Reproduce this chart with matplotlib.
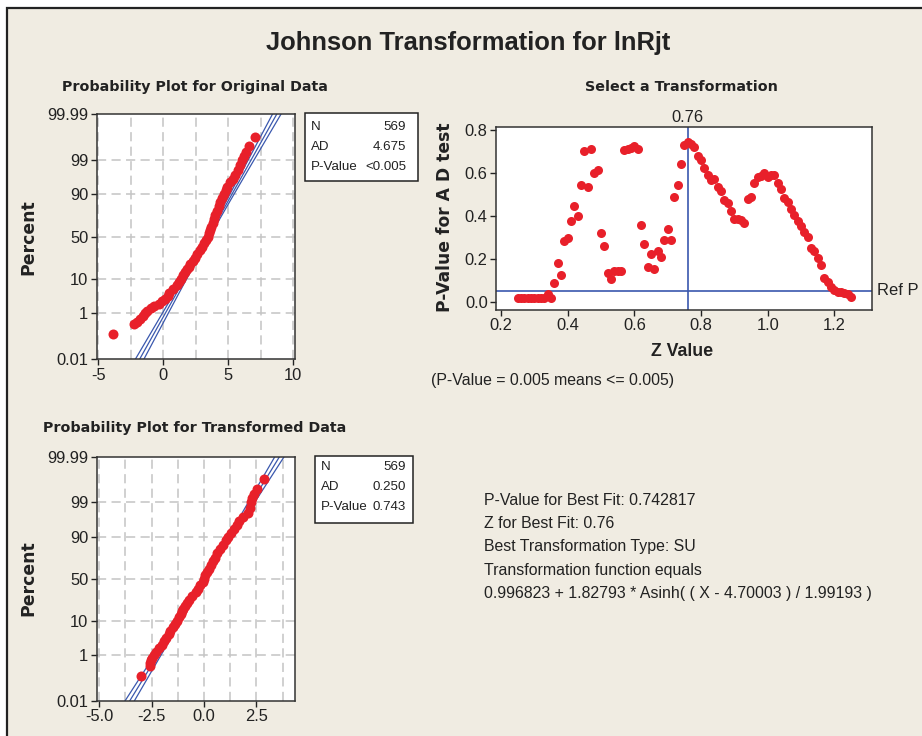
import numpy as np
import matplotlib
matplotlib.use("Agg")
import matplotlib.pyplot as plt
from matplotlib import font_manager
from matplotlib.patches import Rectangle
from statistics import NormalDist

# ------------------------------------------------------------------ data
n_obs = 569

# probability plot, original data (percent, value)
orig_pct = [0.16, 0.4, 0.5, 0.65, 0.8, 1.0, 1.2, 1.5, 1.8, 2.1, 2.5, 3, 3.7, 4.5,
            5.5, 7, 8.5, 10, 12, 14, 16, 18, 20, 23, 26, 30, 34, 38, 42, 46, 50,
            54, 58, 62, 66, 70, 74, 78, 82, 85, 88, 90, 92, 93.5, 95, 96, 97,
            97.8, 98.5, 99, 99.3, 99.5, 99.7, 99.87]
orig_x = [-3.89, -2.29, -2.0, -1.78, -1.6, -1.42, -1.27, -0.98, -0.71, -0.36,
          -0.09, 0.14, 0.32, 0.47, 0.76, 1.02, 1.19, 1.34, 1.52, 1.68, 1.82,
          1.96, 2.08, 2.25, 2.41, 2.61, 2.80, 2.97, 3.13, 3.28, 3.40, 3.50,
          3.61, 3.70, 3.80, 3.90, 4.01, 4.13, 4.26, 4.37, 4.52, 4.63, 4.80,
          4.93, 5.14, 5.34, 5.54, 5.74, 5.90, 6.07, 6.24, 6.39, 6.6, 7.06]
orig_fit_mean = 3.45
orig_fit_sd = 1.42

# probability plot, transformed data (percent, value)
trans_pct = [0.15, 0.38, 0.5, 0.65, 0.8, 1.0, 1.3, 1.7, 2.2, 2.8, 3.5, 4.5, 5.5,
             7, 8.5, 10, 12, 14, 16, 18, 20, 23, 26, 30, 34, 38, 42, 46, 50, 54,
             58, 62, 66, 70, 74, 78, 82, 85, 88, 90, 92, 93.5, 95, 96, 97, 97.8,
             98.5, 99, 99.3, 99.5, 99.7, 99.88]
trans_x = [-3.02, -2.58, -2.56, -2.52, -2.48, -2.40, -2.31, -2.17, -2.01, -1.90,
           -1.80, -1.69, -1.60, -1.48, -1.38, -1.29, -1.20, -1.08, -1.04, -0.98,
           -0.91, -0.81, -0.72, -0.55, -0.37, -0.27, -0.17, -0.05, 0.0, 0.07,
           0.15, 0.23, 0.32, 0.41, 0.53, 0.64, 0.78, 0.89, 1.03, 1.13, 1.27,
           1.43, 1.55, 1.67, 1.86, 2.12, 2.19, 2.24, 2.30, 2.38, 2.53, 2.88]
trans_fit_mean = 0.03
trans_fit_sd = 0.96

orig_stats = [("N", "569"), ("AD", "4.675"), ("P-Value", "<0.005")]
trans_stats = [("N", "569"), ("AD", "0.250"), ("P-Value", "0.743")]

# transformation selection scan
z_values = [0.25, 0.26, 0.27, 0.28, 0.29, 0.30, 0.31, 0.32, 0.33, 0.34, 0.35,
            0.36, 0.37, 0.38, 0.39, 0.40, 0.41, 0.42, 0.43, 0.44, 0.45, 0.46,
            0.47, 0.48, 0.49, 0.50, 0.51, 0.52, 0.53, 0.54, 0.55, 0.56, 0.57,
            0.58, 0.59, 0.60, 0.61, 0.62, 0.63, 0.64, 0.65, 0.66, 0.67, 0.68,
            0.69, 0.70, 0.71, 0.72, 0.73, 0.74, 0.75, 0.76, 0.77, 0.78, 0.79,
            0.80, 0.81, 0.82, 0.83, 0.84, 0.85, 0.86, 0.87, 0.88, 0.89, 0.90,
            0.91, 0.92, 0.93, 0.94, 0.95, 0.96, 0.97, 0.98, 0.99, 1.00, 1.01,
            1.02, 1.03, 1.04, 1.05, 1.06, 1.07, 1.08, 1.09, 1.10, 1.11, 1.12,
            1.13, 1.14, 1.15, 1.16, 1.17, 1.18, 1.19, 1.20, 1.21, 1.22, 1.23,
            1.24, 1.25]
p_values = [0.016, 0.016, 0.016, 0.016, 0.016, 0.016, 0.016, 0.016, 0.016, 0.038,
            0.016, 0.089, 0.179, 0.124, 0.284, 0.295, 0.376, 0.446, 0.401, 0.544,
            0.704, 0.536, 0.711, 0.598, 0.614, 0.322, 0.260, 0.135, 0.104, 0.143,
            0.143, 0.143, 0.707, 0.713, 0.718, 0.725, 0.713, 0.356, 0.267, 0.163,
            0.222, 0.151, 0.236, 0.207, 0.288, 0.339, 0.288, 0.489, 0.544, 0.642,
            0.730, 0.743, 0.735, 0.722, 0.679, 0.660, 0.625, 0.590, 0.567, 0.570,
            0.536, 0.516, 0.474, 0.461, 0.424, 0.384, 0.384, 0.381, 0.365, 0.479,
            0.489, 0.555, 0.580, 0.586, 0.601, 0.582, 0.590, 0.590, 0.555, 0.525,
            0.482, 0.466, 0.430, 0.404, 0.377, 0.353, 0.326, 0.300, 0.249, 0.235,
            0.202, 0.171, 0.109, 0.090, 0.070, 0.055, 0.047, 0.043, 0.039, 0.036,
            0.023]
best_z = 0.76
ref_p = 0.05

pct_ticks = [0.01, 1, 10, 50, 90, 99, 99.99]
pct_labels = ["0.01", "1", "10", "50", "90", "99", "99.99"]

summary_lines = ["P-Value for Best Fit: 0.742817",
                 "Z for Best Fit: 0.76",
                 "Best Transformation Type: SU",
                 "Transformation function equals",
                 "0.996823 + 1.82793 * Asinh( ( X - 4.70003 ) / 1.99193 )"]

# ------------------------------------------------------------------ style
W, H = 922, 736
_names = {f.name for f in font_manager.fontManager.ttflist}
if "Liberation Sans Narrow" in _names:
    NARROW = ["Liberation Sans Narrow", "DejaVu Sans"]
    SF = 1.0
elif "DejaVu Sans Condensed" in _names:
    NARROW = ["DejaVu Sans Condensed", "DejaVu Sans"]
    SF = 0.87
else:
    NARROW = ["Liberation Sans", "DejaVu Sans"]
    SF = 0.88
WIDE = ["DejaVu Sans"]
RED = "#E8202A"
BLUE = "#3A58AE"
BEIGE = "#F0ECE2"
GRID = "#C4C4C4"
INK = "#222222"

ND = NormalDist()
_ppf = np.vectorize(ND.inv_cdf, otypes=[float])
_cdf = np.vectorize(ND.cdf, otypes=[float])


def fwd(p):
    p = np.asarray(p, dtype=float)
    return _ppf(np.clip(p / 100.0, 1e-9, 1 - 1e-9))


def inv(z):
    return _cdf(np.asarray(z, dtype=float)) * 100.0


def fx(px):
    return px / W


def fy(py):
    return 1 - py / H


def rect(l, t, r, b):
    return [fx(l), fy(b), (r - l) / W, (b - t) / H]


fig = plt.figure(figsize=(W / 100, H / 100), dpi=100, facecolor="white")
fig.patches.append(Rectangle((fx(7), fy(760)), 1.2, (760 - 8) / H,
                             transform=fig.transFigure, facecolor=BEIGE,
                             edgecolor=INK, linewidth=1.6, zorder=-5))

TICK_FS = 13.5 * SF


def style_axes(ax):
    for s in ax.spines.values():
        s.set_color("#333333")
        s.set_linewidth(1.1)
    ax.tick_params(direction="out", length=4, width=1, pad=2,
                   labelsize=TICK_FS, colors=INK)
    for lab in ax.get_xticklabels() + ax.get_yticklabels():
        lab.set_family(NARROW)


def prob_plot(ax, xs, pcts, mu, sd, xlim, xticks, xticklabels, vgrid):
    ax.set_facecolor("white")
    ax.set_yscale("function", functions=(fwd, inv))
    ax.set_ylim(0.01, 99.99)
    ax.set_xlim(*xlim)
    for g in vgrid:
        ax.axvline(g, color=GRID, lw=1.1, dashes=(6, 3.5), zorder=1)
    for g in pct_ticks[1:-1]:
        ax.axhline(g, color=GRID, lw=1.1, dashes=(6, 3.5), zorder=1)
    zz = np.linspace(-3.75, 3.75, 200)
    centre = mu + sd * zz
    half = 1.96 * sd * np.sqrt((1 + zz ** 2 / 2) / n_obs)
    pp = inv(zz)
    for line in (centre - half, centre, centre + half):
        ax.plot(line, pp, color=BLUE, lw=0.9, zorder=2)
    ax.plot(xs, pcts, "o", color=RED, ms=7.2, mew=0, zorder=3)
    ax.set_yticks(pct_ticks)
    ax.set_yticklabels(pct_labels)
    ax.yaxis.set_minor_locator(matplotlib.ticker.NullLocator())
    ax.set_xticks(xticks)
    ax.set_xticklabels(xticklabels)
    style_axes(ax)


def stats_box(l, t, r, b, rows, xl, xr, ys):
    fig.patches.append(Rectangle((fx(l), fy(b)), (r - l) / W, (b - t) / H,
                                 transform=fig.transFigure, facecolor="white",
                                 edgecolor=INK, linewidth=1.1, zorder=1))
    for (k, v), y in zip(rows, ys):
        fig.text(fx(xl), fy(y), k, ha="left", va="center", fontsize=11.0 * SF,
                 family=NARROW, color=INK)
        fig.text(fx(xr), fy(y), v, ha="right", va="center", fontsize=11.0 * SF,
                 family=NARROW, color=INK)


# ---- top-left: original data
ax1 = fig.add_axes(rect(96.7, 114, 295, 359.3))
prob_plot(ax1, orig_x, orig_pct, orig_fit_mean, orig_fit_sd, (-5.13, 10.13),
          [-5, 0, 5, 10], ["-5", "0", "5", "10"],
          [-5, -2.5, 0, 2.5, 5, 7.5, 10])
stats_box(305, 113, 418, 181, orig_stats, 311, 406, [127, 147, 167])

# ---- bottom-left: transformed data
ax3 = fig.add_axes(rect(96.7, 456.7, 295, 700.7))
prob_plot(ax3, trans_x, trans_pct, trans_fit_mean, trans_fit_sd, (-5.12, 4.34),
          [-5, -2.5, 0, 2.5], ["-5.0", "-2.5", "0.0", "2.5"],
          [-5, -3.75, -2.5, -1.25, 0, 1.25, 2.5, 3.75])
stats_box(315, 456, 413, 523, trans_stats, 321, 406, [467, 487, 507])

# ---- top-right: select a transformation
ax2 = fig.add_axes(rect(496, 126.7, 872, 310))
ax2.set_facecolor("white")
ax2.set_xlim(0.185, 1.313)
ax2.set_ylim(-0.0387, 0.8155)
ax2.axvline(best_z, color=BLUE, lw=1.2, zorder=1)
ax2.axhline(ref_p, color=BLUE, lw=1.2, zorder=1)
ax2.plot(z_values, p_values, "o", color=RED, ms=6.5, mew=0, zorder=3)
ax2.set_xticks([0.2, 0.4, 0.6, 0.8, 1.0, 1.2])
ax2.set_xticklabels(["0.2", "0.4", "0.6", "0.8", "1.0", "1.2"])
ax2.set_yticks([0.0, 0.2, 0.4, 0.6, 0.8])
ax2.set_yticklabels(["0.0", "0.2", "0.4", "0.6", "0.8"])
style_axes(ax2)
ax2.text(best_z, 1.01, "0.76", transform=ax2.get_xaxis_transform(),
         ha="center", va="bottom", fontsize=TICK_FS, family=NARROW, color=INK)
ax2.text(1.012, ref_p, "Ref P", transform=ax2.get_yaxis_transform(),
         ha="left", va="center", fontsize=TICK_FS, family=NARROW, color=INK)

# ---- texts
fig.text(fx(468.5), fy(50), "Johnson Transformation for lnRjt", ha="center",
         va="baseline", fontsize=21.5 * SF * 0.97, fontweight="bold", family=NARROW,
         color=INK)
fig.text(fx(194.5), fy(91), "Probability Plot for Original Data", ha="center",
         va="baseline", fontsize=10.3, fontweight="bold", family=WIDE, color=INK)
fig.text(fx(681), fy(91), "Select a Transformation", ha="center",
         va="baseline", fontsize=10.3, fontweight="bold", family=WIDE, color=INK)
fig.text(fx(194.5), fy(432), "Probability Plot for Transformed Data", ha="center",
         va="baseline", fontsize=10.3, fontweight="bold", family=WIDE, color=INK)
fig.text(fx(28.3), fy(236.7), "Percent", rotation=90, ha="center", va="center",
         fontsize=12.4, fontweight="bold", family=WIDE, color=INK)
fig.text(fx(28.5), fy(578), "Percent", rotation=90, ha="center", va="center",
         fontsize=12.4, fontweight="bold", family=WIDE, color=INK)
fig.text(fx(445), fy(217.5), "P-Value for A D test", rotation=90, ha="center",
         va="center", fontsize=12.3, fontweight="bold", family=WIDE, color=INK)
fig.text(fx(682), fy(351), "Z Value", ha="center", va="center",
         fontsize=14.5 * SF, fontweight="bold", family=NARROW, color=INK)
fig.text(fx(431), fy(381), "(P-Value = 0.005 means <= 0.005)", ha="left",
         va="center", fontsize=13 * SF, family=NARROW, color=INK)
for i, line in enumerate(summary_lines):
    fig.text(fx(484), fy(500.7 + i * 23.15), line, ha="left", va="center",
             fontsize=13 * SF, family=NARROW, color=INK)

fig.savefig("out.png", dpi=100, facecolor="white")
